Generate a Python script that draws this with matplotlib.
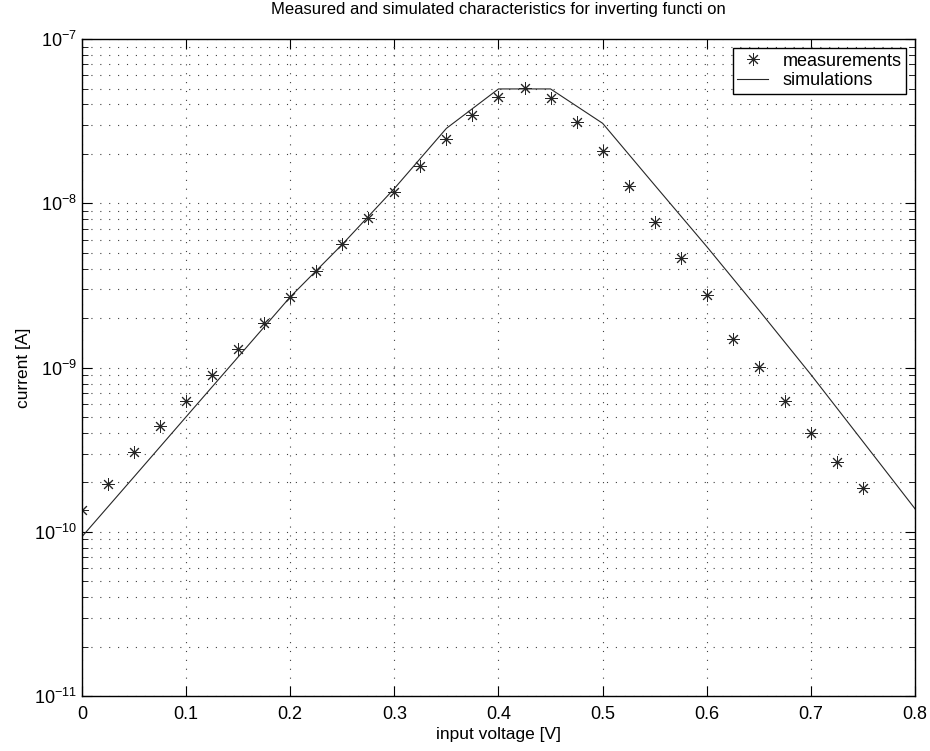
import matplotlib
matplotlib.use("Agg")
import matplotlib.pyplot as plt
from matplotlib.ticker import LogLocator, FixedLocator, NullFormatter

plt.rcParams['font.family'] = ['Liberation Sans', 'DejaVu Sans']

# measured points (every 25 mV)
meas_v = [0.0, 0.025, 0.05, 0.075, 0.1, 0.125, 0.15, 0.175, 0.2, 0.225,
          0.25, 0.275, 0.3, 0.325, 0.35, 0.375, 0.4, 0.425, 0.45, 0.475,
          0.5, 0.525, 0.55, 0.575, 0.6, 0.625, 0.65, 0.675, 0.7, 0.725, 0.75]
meas_i = [1.36e-10, 1.95e-10, 3.08e-10, 4.42e-10, 6.27e-10, 9.0e-10, 1.30e-9,
          1.87e-9, 2.70e-9, 3.89e-9, 5.65e-9, 8.17e-9, 1.18e-8, 1.69e-8,
          2.45e-8, 3.44e-8, 4.41e-8, 5.06e-8, 4.35e-8, 3.14e-8, 2.08e-8,
          1.27e-8, 7.73e-9, 4.62e-9, 2.78e-9, 1.50e-9, 1.01e-9, 6.24e-10,
          3.98e-10, 2.65e-10, 1.86e-10]

# simulation (every 50 mV)
sim_v = [0.0, 0.05, 0.1, 0.15, 0.2, 0.25, 0.3, 0.35, 0.4, 0.45,
         0.5, 0.55, 0.6, 0.65, 0.7, 0.75, 0.8]
sim_i = [9.33e-11, 2.16e-10, 5.01e-10, 1.16e-9, 2.69e-9, 5.62e-9, 1.23e-8,
         2.86e-8, 4.97e-8, 4.97e-8, 3.07e-8, 1.29e-8, 5.45e-9, 2.24e-9,
         9.06e-10, 3.54e-10, 1.38e-10]

x_ticks = [0, 0.1, 0.2, 0.3, 0.4, 0.5, 0.6, 0.7, 0.8]
x_labels = ["0", "0.1", "0.2", "0.3", "0.4", "0.5", "0.6", "0.7", "0.8"]

fig = plt.figure(figsize=(9.3, 7.51), dpi=100)
ax = fig.add_axes([0.088, 0.073, 0.896, 0.875])

ax.semilogy(meas_v, meas_i, linestyle='none', marker=(8, 2, 0), markersize=9,
            color='0.15', markeredgewidth=0.7, label='measurements')
ax.semilogy(sim_v, sim_i, color='0.15', linewidth=0.8, label='simulations')

ax.set_xlim(0, 0.8)
ax.set_ylim(1e-11, 1e-7)
ax.xaxis.set_major_locator(FixedLocator(x_ticks))
ax.set_xticklabels(x_labels)
ax.yaxis.set_major_locator(LogLocator(base=10, numticks=10))
ax.yaxis.set_minor_locator(LogLocator(base=10, subs=range(2, 10), numticks=20))
ax.yaxis.set_minor_formatter(NullFormatter())

dots = (0, (1, 7))
ax.grid(True, which='major', linestyle=dots, color='0.25', linewidth=0.8)
ax.grid(True, which='minor', axis='y', linestyle=dots, color='0.25', linewidth=0.8)

ax.tick_params(which='both', direction='in', top=True, right=True, labelsize=13)
ax.tick_params(axis='x', pad=7)
ax.tick_params(which='major', length=7)
ax.tick_params(which='minor', length=4)
for s in ax.spines.values():
    s.set_linewidth(1.0)

ax.set_xlabel("input voltage [V]", fontsize=12.5, labelpad=3)
ax.set_ylabel("current [A]", fontsize=12.5, labelpad=2)
ax.set_title("Measured and simulated characteristics for inverting functi on",
             fontsize=12, pad=18)

leg = ax.legend(loc='upper right', fontsize=13, fancybox=False, framealpha=1,
                edgecolor='black', borderaxespad=0.5, borderpad=0.25,
                labelspacing=0.15, handlelength=1.7, handletextpad=0.8)
leg.get_frame().set_linewidth(1.0)

fig.savefig("out.png", dpi=100)
